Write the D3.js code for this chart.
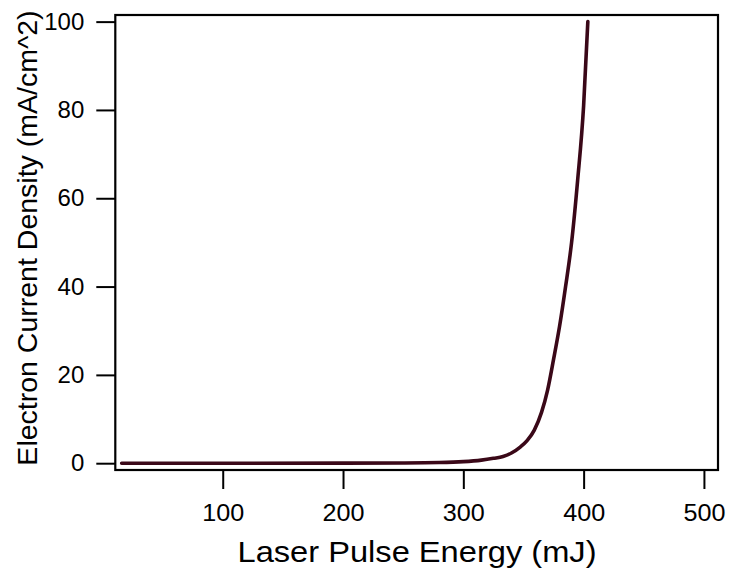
<!DOCTYPE html>
<html><head><meta charset="utf-8">
<script src="https://cdn.jsdelivr.net/npm/d3@7"></script>
<style>body{margin:0;background:#fff}svg{display:block}text{font-family:"Liberation Sans",Arial,sans-serif;fill:#000}</style>
</head><body>
<svg id="c" width="730" height="574"></svg>
<script>
const energy = [16, 100, 200, 250, 280, 300, 315, 325, 333, 340, 347, 353, 359, 365, 370, 375, 380, 385, 390, 395, 400, 403.5];
const density = [0, 0, 0.02, 0.06, 0.15, 0.35, 0.7, 1.1, 1.5, 2.3, 3.6, 5.1, 7.5, 11.5, 16.5, 23.5, 31, 40, 50, 64, 81, 100];
const xTicks = [100, 200, 300, 400, 500];
const yTicks = [0, 20, 40, 60, 80, 100];
const xTitle = "Laser Pulse Energy (mJ)";
const yTitle = "Electron Current Density (mA/cm^2)";

const L = 115.3, R = 718, T = 15, B = 470;
const svg = d3.select("#c");
const x = d3.scaleLinear().domain([10.7, 511.7]).range([L, R]);
const y = d3.scaleLinear().domain([-1.54, 101.5]).range([B, T]);

const xa = svg.append("g").attr("transform", `translate(0,${B})`)
  .call(d3.axisBottom(x).tickValues(xTicks).tickSize(19).tickPadding(15).tickSizeOuter(0));
const ya = svg.append("g").attr("transform", `translate(${L},0)`)
  .call(d3.axisLeft(y).tickValues(yTicks).tickSize(19).tickPadding(12).tickSizeOuter(0));
[xa, ya].forEach(a => {
  a.select(".domain").remove();
  a.selectAll(".tick line").attr("stroke", "#000").attr("stroke-width", 2);
});
xa.selectAll(".tick text").style("font-size", "24.5px").attr("fill", "#000")
  .attr("textLength", 42).attr("lengthAdjust", "spacingAndGlyphs");
ya.selectAll(".tick text").style("font-size", "24px").attr("fill", "#000");

svg.append("rect").attr("x", L).attr("y", T).attr("width", R - L).attr("height", B - T)
  .attr("fill", "none").attr("stroke", "#000").attr("stroke-width", 2.2);

const pts = energy.map((e, i) => [e, density[i]]);
svg.append("path").datum(pts)
  .attr("fill", "none").attr("stroke", "#3a0818").attr("stroke-width", 3.6)
  .attr("stroke-linecap", "round").attr("stroke-linejoin", "round")
  .attr("d", d3.line().x(d => x(d[0])).y(d => y(d[1])).curve(d3.curveMonotoneX));

svg.append("text").attr("x", 417).attr("y", 562).attr("text-anchor", "middle")
  .style("font-size", "30px").attr("textLength", 359).attr("lengthAdjust", "spacingAndGlyphs").text(xTitle);
svg.append("text").attr("transform", "translate(37,238) rotate(-90)").attr("text-anchor", "middle")
  .style("font-size", "28.5px").text(yTitle);
</script>
</body></html>
